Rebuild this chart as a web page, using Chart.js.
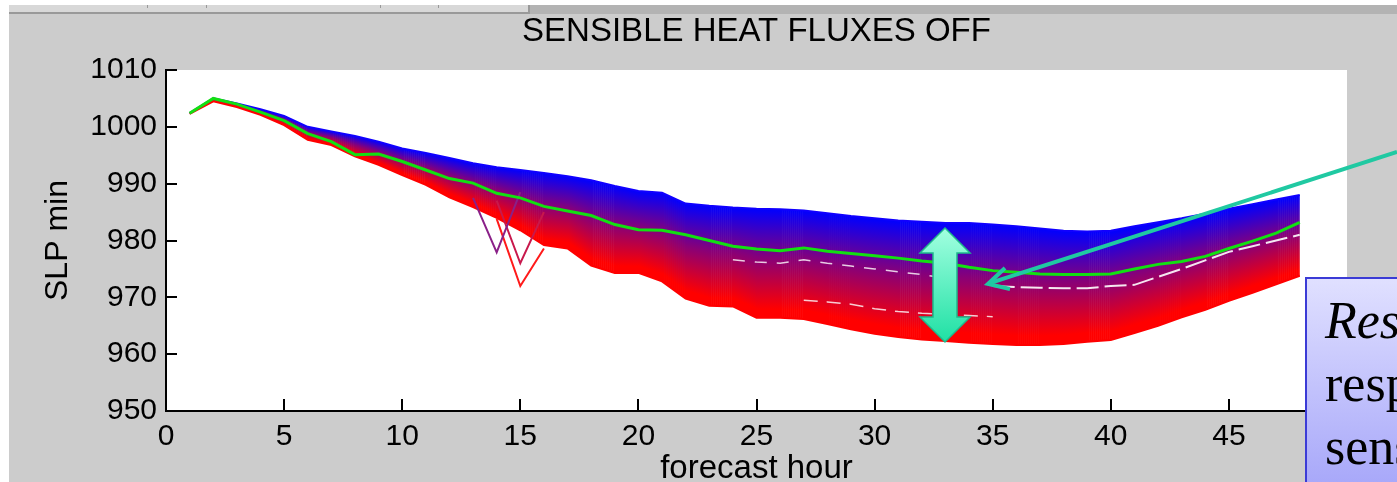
<!DOCTYPE html>
<html>
<head>
<meta charset="utf-8">
<title>SLP min - sensible heat fluxes off</title>
<script src="https://cdn.jsdelivr.net/npm/chart.js@4.4.1/dist/chart.umd.min.js"></script>
<style>
  html, body { margin: 0; padding: 0; }
  body { width: 1397px; height: 482px; overflow: hidden; position: relative; background: #cccccc; font-family: "Liberation Sans", Arial, sans-serif; }
  #wrap { position: absolute; left: 0; top: 0; width: 1397px; height: 482px; }
  .edge-left { position: absolute; left: 0; top: 0; width: 9px; height: 482px; background: #fff; }
  .edge-top { position: absolute; left: 0; top: 0; width: 1397px; height: 5px; background: #fff; }
  .tabbar { position: absolute; left: 9px; top: 5px; width: 519px; height: 7px; background: #d8d8d8; border-bottom: 2px solid #999; border-right: 2px solid #999; }
  .tabbar i { position: absolute; top: 0; width: 1px; height: 3px; background: #999; }
  .bar-right { position: absolute; left: 530px; top: 5px; right: 0; height: 9px; background: #b3b3b3; }
  #ann { position: absolute; left: 0; top: 0; pointer-events: none; }
  .note { position: absolute; left: 1305px; top: 277px; width: 260px; height: 260px; box-sizing: border-box;
          border: 2px solid #3b3bd6; background: linear-gradient(#e0e0ff, #9a9af8);
          padding: 10px 0 0 18px; font-family: "Liberation Serif", "Times New Roman", serif;
          font-size: 52px; line-height: 63px; color: #000; white-space: nowrap; }
  .note em { font-style: italic; }
</style>
</head>
<body>
<div id="wrap"><canvas id="slpChart" width="1397" height="482"></canvas></div>
<div class="edge-left"></div>
<div class="edge-top"></div>
<div class="tabbar"><i style="left:138px"></i><i style="left:197px"></i><i style="left:371px"></i><i style="left:429px"></i></div>
<div class="bar-right"></div>
<svg id="ann" width="1397" height="482">
  <defs>
    <linearGradient id="dbl" x1="0" y1="0" x2="0" y2="1">
      <stop offset="0" stop-color="#a2ffe0"/>
      <stop offset="1" stop-color="#1fe0a4"/>
    </linearGradient>
  </defs>
  <polygon points="945,228 970,253 957,253 957,317 970,317 945,342 920,317 933,317 933,253 920,253"
           fill="url(#dbl)" stroke="#1db98c" stroke-width="1.5"/>
  <line x1="1397" y1="152" x2="990" y2="283" stroke="#20c9a2" stroke-width="4"/>
  <polyline points="1005,268 988,284 1010,289" fill="none" stroke="#20c9a2" stroke-width="4"/>
</svg>
<div class="note"><em>Response</em><br>response<br>sensible</div>

<script>
// forecast hours and min SLP (hPa)
const hours = [1, 2, 3, 4, 5, 6, 7, 8, 9, 10, 11, 12, 13, 14, 15, 16, 17, 18, 19, 20, 21, 22, 23, 24,
               25, 26, 27, 28, 29, 30, 31, 32, 33, 34, 35, 36, 37, 38, 39, 40, 41, 42, 43, 44, 45, 46, 47, 48];

// top (blue) member of the ensemble
const slpUpper = [1002.4, 1005.0, 1004.1, 1003.1, 1001.9, 1000.0, 999.2, 998.4, 997.4, 996.2,
                  995.4, 994.5, 993.6, 992.9, 992.4, 991.9, 991.3, 990.6, 989.6, 988.7,
                  988.4, 986.5, 986.1, 985.8, 985.6, 985.5, 985.3, 984.8, 984.3, 983.9,
                  983.5, 983.3, 983.1, 983.1, 982.8, 982.5, 982.1, 981.7, 981.6, 981.7,
                  982.5, 983.2, 983.9, 984.7, 985.6, 986.4, 987.2, 988.0];

// bottom (red) member
const slpLower = [1002.3, 1004.5, 1003.5, 1002.1, 1000.3, 997.7, 996.8, 994.8, 993.3, 991.5,
                  989.8, 987.6, 985.9, 984.0, 981.8, 979.2, 978.6, 975.6, 974.3, 974.3,
                  972.8, 969.8, 968.5, 968.4, 966.4, 966.4, 966.2, 965.3, 964.4, 963.6,
                  963.0, 962.6, 962.3, 962.0, 961.8, 961.6, 961.6, 961.8, 962.2, 962.5,
                  963.7, 965.0, 966.5, 967.8, 969.4, 970.8, 972.3, 973.8];

// green line
const slpGreen = [1002.4, 1005.0, 1004.0, 1002.6, 1001.1, 998.8, 997.4, 995.1, 995.2, 993.9,
                  992.4, 990.9, 990.1, 988.3, 987.5, 986.0, 985.2, 984.4, 982.8, 981.9,
                  981.8, 981.0, 980.0, 979.0, 978.5, 978.2, 978.7, 978.1, 977.7, 977.3,
                  976.9, 976.4, 976.0, 975.3, 974.7, 974.4, 974.1, 974.0, 974.0, 974.1,
                  975.0, 975.8, 976.3, 977.2, 978.6, 979.9, 981.3, 983.2];

// the few members that dip out of the band around hour 14-15
const dipHoursA = [13, 14, 15];
const dipPurple = [987.5, 977.9, 988.5];
const dipHoursB = [14, 15, 16];
const dipRed = [983.8, 972.0, 978.6];
const dipCrimson = [987.0, 976.0, 985.0];

// white gaps between members (streaks seen inside the band)
const gapHoursA = [35, 36, 37, 38, 39, 40, 41, 42, 43, 44, 45, 46, 47, 48];
const gapA = [972.0, 971.8, 971.7, 971.6, 971.6, 972.0, 972.2, 973.6, 975.0, 976.5, 978.0, 979.0, 980.0, 981.0];
const gapHoursB = [24, 25, 26, 27, 28, 29, 30, 31, 32, 33];
const gapB = [976.6, 976.2, 976.0, 976.6, 976.0, 975.5, 975.0, 974.5, 974.0, 973.4];
const gapHoursC = [27, 28, 29, 30, 31, 32, 33, 34, 35];
const gapC = [969.5, 969.2, 968.8, 968.0, 967.5, 967.2, 967.0, 966.8, 966.6];

const xTicks = [0, 5, 10, 15, 20, 25, 30, 35, 40, 45, 50];
const yTicks = [950, 960, 970, 980, 990, 1000, 1010];

const pts = (xs, ys) => xs.map((x, i) => ({ x: x, y: ys[i] }));

const metaByLabel = (chart, label) =>
  chart.getDatasetMeta(chart.data.datasets.findIndex(d => d.label === label));

// paints the members band: blue at the top member, red at the bottom one
const bandFill = {
  id: 'bandFill',
  beforeDatasetsDraw(chart) {
    const up = metaByLabel(chart, 'upper').data;
    const lo = metaByLabel(chart, 'lower').data;
    const ctx = chart.ctx;
    ctx.save();
    ctx.beginPath();
    up.forEach((p, i) => i ? ctx.lineTo(p.x, p.y) : ctx.moveTo(p.x, p.y));
    for (let i = lo.length - 1; i >= 0; i--) ctx.lineTo(lo[i].x, lo[i].y);
    ctx.closePath();
    ctx.clip();
    for (let i = 0; i < up.length - 1; i++) {
      const x0 = up[i].x, x1 = up[i + 1].x;
      for (let x = x0; x < x1; x += 2) {
        const t = (x - x0) / (x1 - x0);
        const yt = up[i].y + (up[i + 1].y - up[i].y) * t;
        const yb = lo[i].y + (lo[i + 1].y - lo[i].y) * t;
        const g = ctx.createLinearGradient(0, yt, 0, yb + 0.01);
        g.addColorStop(0, '#0000ff');
        g.addColorStop(0.45, '#880078');
        g.addColorStop(0.92, '#ff0000');
        g.addColorStop(1, '#ff0000');
        ctx.fillStyle = g;
        ctx.fillRect(x, yt - 2, 2.6, yb - yt + 4);
      }
    }
    ctx.restore();
  }
};

const panelBg = {
  id: 'panelBg',
  beforeDraw(chart) {
    const { ctx, chartArea: a } = chart;
    ctx.save();
    ctx.fillStyle = '#cccccc';
    ctx.fillRect(0, 0, chart.width, chart.height);
    ctx.fillStyle = '#ffffff';
    ctx.fillRect(a.left, a.top, a.right - a.left, a.bottom - a.top);
    ctx.restore();
  }
};

// matlab style ticks pointing into the axes
const inTicks = {
  id: 'inTicks',
  afterDatasetsDraw(chart) {
    const { ctx, scales: { x, y }, chartArea: a } = chart;
    ctx.save();
    ctx.strokeStyle = '#000';
    ctx.lineWidth = 2;
    ctx.beginPath();
    y.ticks.forEach(t => {
      const py = Math.round(y.getPixelForValue(t.value));
      ctx.moveTo(a.left, py); ctx.lineTo(a.left + 11, py);
    });
    x.ticks.forEach(t => {
      if (t.value === 0) return;
      const px = Math.round(x.getPixelForValue(t.value));
      ctx.moveTo(px, a.bottom); ctx.lineTo(px, a.bottom - 12);
    });
    ctx.stroke();
    ctx.restore();
  }
};

const line = (label, data, color, width, dash) => ({
  label: label, data: data, borderColor: color, borderWidth: width, pointRadius: 0,
  borderDash: dash || [], fill: false, tension: 0, spanGaps: false
});

const ctx = document.getElementById('slpChart');
const slpChart = new Chart(ctx, {
  type: 'line',
  plugins: [panelBg, bandFill, inTicks],
  data: {
    datasets: [
      line('green', pts(hours, slpGreen), '#12e012', 3),
      line('gapA', pts(gapHoursA, gapA), 'rgba(255,255,255,0.9)', 2, [22, 6]),
      line('gapB', pts(gapHoursB, gapB), 'rgba(255,255,255,0.8)', 1.5, [12, 10]),
      line('gapC', pts(gapHoursC, gapC), 'rgba(255,255,255,0.8)', 1.5, [14, 9]),
      line('dipPurple', pts(dipHoursA, dipPurple), '#8a2088', 2),
      line('dipRed', pts(dipHoursB, dipRed), '#ff1a1a', 2),
      line('dipCrimson', pts(dipHoursB, dipCrimson), '#c8184c', 2),
      line('upper', pts(hours, slpUpper), '#1000ff', 2),
      line('lower', pts(hours, slpLower), '#ff0000', 2)
    ]
  },
  options: {
    responsive: false,
    animation: false,
    layout: { padding: { left: 0, right: 50, top: 0, bottom: 0 } },
    plugins: {
      legend: { display: false },
      tooltip: { enabled: false },
      title: {
        display: true,
        fullSize: false,
        text: 'SENSIBLE HEAT FLUXES OFF',
        color: '#000',
        font: { family: '"Liberation Sans", Arial, sans-serif', size: 33, weight: 'normal' },
        padding: { top: 12, bottom: 18.4 }
      }
    },
    scales: {
      x: {
        type: 'linear',
        min: 0, max: 50,
        afterBuildTicks: s => { s.ticks = xTicks.map(v => ({ value: v })); },
        afterFit: s => { s.height = 71; },
        ticks: { color: '#000', padding: 8, maxRotation: 0, autoSkip: false,
                 callback: v => String(v),
                 font: { family: '"Liberation Sans", Arial, sans-serif', size: 30 } },
        grid: { drawOnChartArea: false, drawTicks: false },
        border: { display: true, color: '#000', width: 2 },
        title: { display: true, text: 'forecast hour', color: '#000', padding: 0,
                 font: { family: '"Liberation Sans", Arial, sans-serif', size: 33, lineHeight: 0.8 } }
      },
      y: {
        min: 950, max: 1010,
        afterBuildTicks: s => { s.ticks = yTicks.map(v => ({ value: v })); },
        afterFit: s => { s.width = 166; },
        ticks: { color: '#000', padding: 9,
                 callback: v => String(v),
                 font: { family: '"Liberation Sans", Arial, sans-serif', size: 30 } },
        grid: { drawOnChartArea: false, drawTicks: false },
        border: { display: true, color: '#000', width: 2 },
        title: { display: true, text: 'SLP min', color: '#000', padding: { top: 39, bottom: 0 },
                 font: { family: '"Liberation Sans", Arial, sans-serif', size: 32 } }
      }
    }
  }
});
</script>
</body>
</html>
